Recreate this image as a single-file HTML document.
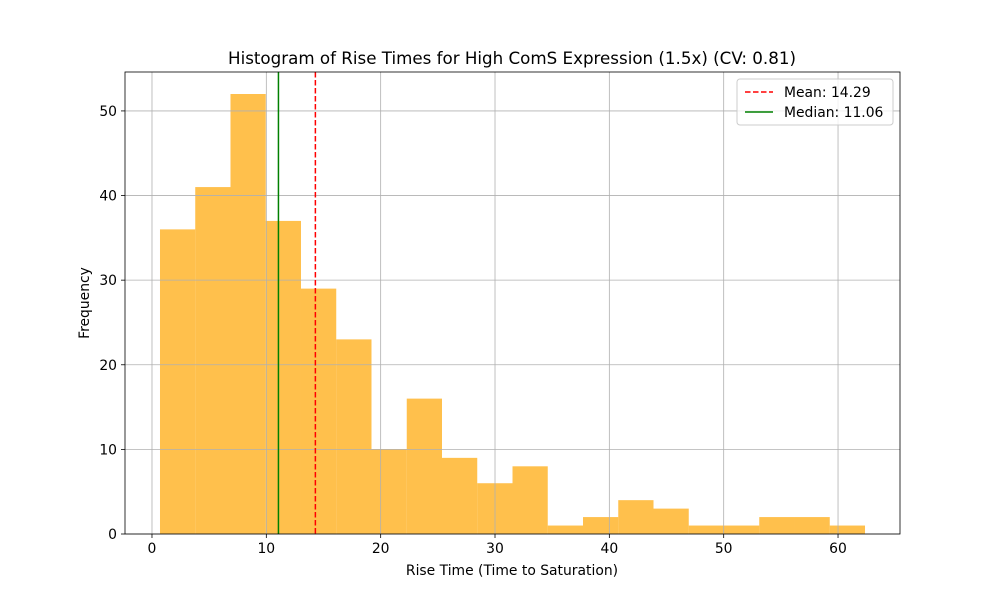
<!DOCTYPE html>
<html><head><meta charset="utf-8"><style>
body{margin:0;background:#fff;}
svg{display:block;font-family:"DejaVu Sans","Liberation Sans",sans-serif;}
</style></head><body>
<svg id="chart" width="1000" height="600">
<rect width="1000" height="600" fill="#fff"/>
<g id="bars"></g><g id="grid"></g><g id="lines"></g><g id="axes"></g>
<text x="512" y="64" font-size="16.7" text-anchor="middle">Histogram of Rise Times for High ComS Expression (1.5x) (CV: 0.81)</text>
<text x="512" y="575" font-size="13.9" text-anchor="middle">Rise Time (Time to Saturation)</text>
<text transform="translate(89,303) rotate(-90)" font-size="13.9" text-anchor="middle">Frequency</text>
<g>
<rect x="737" y="79" width="156" height="46" rx="3" fill="#fff" fill-opacity="0.8" stroke="#ccc"/>
<line x1="745" y1="92" x2="773" y2="92" stroke="red" stroke-width="1.5" stroke-dasharray="5.5,2.5"/>
<text x="784" y="97" font-size="13.9">Mean: 14.29</text>
<line x1="745" y1="112" x2="773" y2="112" stroke="green" stroke-width="1.5"/>
<text x="784" y="117" font-size="13.9">Median: 11.06</text>
</g>
</svg>
<script>
const binStart = 0.70;
const binWidth = 3.083;
const counts = [36,41,52,37,29,23,10,16,9,6,8,1,2,4,3,1,1,2,2,1];
const xTicks = [0,10,20,30,40,50,60];
const yTicks = [0,10,20,30,40,50];
const meanVal = 14.29;
const medianVal = 11.06;

const L=125,R=900,T=72,B=534;
const xMin=-2.36,xMax=65.42,yMin=0,yMax=54.6;
const xs=v=>L+(v-xMin)/(xMax-xMin)*(R-L);
const ys=v=>B-(v-yMin)/(yMax-yMin)*(B-T);
const NS="http://www.w3.org/2000/svg";
function mk(tag,attrs,parent){const e=document.createElementNS(NS,tag);for(const k in attrs)e.setAttribute(k,attrs[k]);document.getElementById(parent).appendChild(e);return e;}

xTicks.forEach(t=>{
  const g=mk('line',{x1:xs(t),x2:xs(t),y1:T,y2:B,stroke:'#b0b0b0','stroke-width':0.8},'grid');
  
  
  mk('line',{x1:xs(t),x2:xs(t),y1:B,y2:B+4,stroke:'#000','stroke-width':0.8},'axes');
  const tx=mk('text',{x:xs(t),y:B+19,'font-size':13.9,'text-anchor':'middle'},'axes');
  tx.textContent=t;
  
  
});
yTicks.forEach(t=>{
  const g=mk('line',{x1:L,x2:R,y1:ys(t),y2:ys(t),stroke:'#b0b0b0','stroke-width':0.8},'grid');
  
  
  mk('line',{x1:L-4,x2:L,y1:ys(t),y2:ys(t),stroke:'#000','stroke-width':0.8},'axes');
  const tx=mk('text',{x:L-8,y:ys(t)+5,'font-size':13.9,'text-anchor':'end'},'axes');
  tx.textContent=t;
  
  
});
counts.forEach((c,i)=>{
  const x0=xs(binStart+i*binWidth),x1=xs(binStart+(i+1)*binWidth);
  const r=mk('rect',{x:x0,y:ys(c),width:x1-x0,height:ys(0)-ys(c),fill:'orange','fill-opacity':0.7},'bars');
  
  
});
const ml=mk('line',{x1:xs(meanVal),x2:xs(meanVal),y1:T,y2:B,stroke:'red','stroke-width':1.5,'stroke-dasharray':'5.5,2.5'},'lines');


const md=mk('line',{x1:xs(medianVal),x2:xs(medianVal),y1:T,y2:B,stroke:'green','stroke-width':1.5},'lines');


const fr=mk('rect',{x:L,y:T,width:R-L,height:B-T,fill:'none',stroke:'#000','stroke-width':0.8},'axes');


</script>
</body></html>
